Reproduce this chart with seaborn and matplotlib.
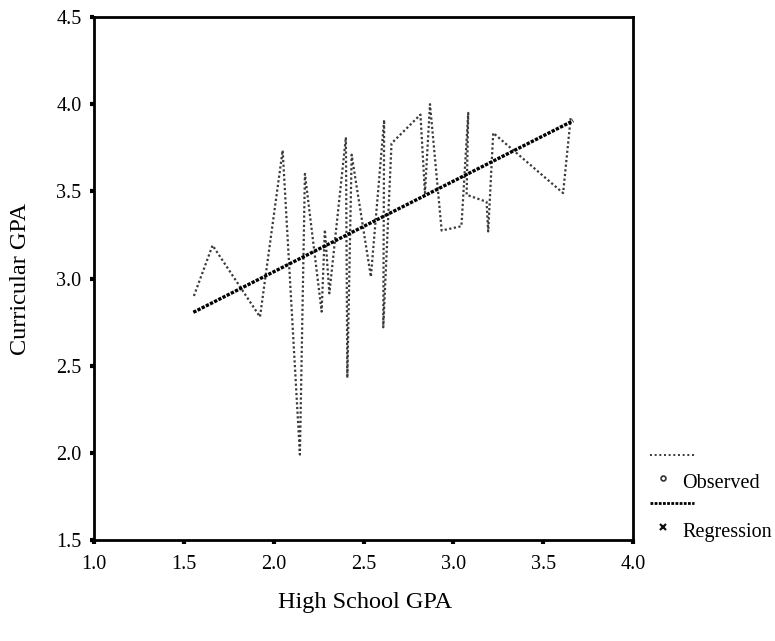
import matplotlib
matplotlib.use("Agg")
import matplotlib.pyplot as plt
from matplotlib.lines import Line2D
import seaborn as sns
import pandas as pd

# Observed series (connected in order)
obs_x = [1.556, 1.660, 1.924, 2.050, 2.146, 2.174, 2.267, 2.285, 2.310, 2.402,
         2.410, 2.434, 2.541, 2.615, 2.610, 2.656, 2.817, 2.842, 2.870, 2.935,
         3.045, 3.083, 3.074, 3.185, 3.194, 3.222, 3.611, 3.653]
obs_y = [2.90, 3.19, 2.78, 3.735, 1.99, 3.60, 2.81, 3.28, 2.915, 3.81,
         2.43, 3.71, 3.01, 3.91, 2.72, 3.775, 3.94, 3.49, 4.00, 3.275,
         3.30, 3.95, 3.48, 3.44, 3.27, 3.835, 3.49, 3.92]
# Regression line
reg_x = [1.553, 3.667]
reg_y = [2.806, 3.905]

x_ticks = [1.0, 1.5, 2.0, 2.5, 3.0, 3.5, 4.0]
y_ticks = [1.5, 2.0, 2.5, 3.0, 3.5, 4.0, 4.5]
x_label = "High School GPA"
y_label = "Curricular GPA"
legend_labels = ["Observed", "Regression"]

sns.set_theme(style="white")
plt.rcParams["font.family"] = ["Liberation Serif", "DejaVu Serif"]

fig = plt.figure(figsize=(7.75, 6.41), dpi=100)
ax = fig.add_axes([94 / 775, 1 - 540 / 641, (633 - 94) / 775, (540 - 17) / 641])

obs_df = pd.DataFrame({"x": obs_x, "y": obs_y})
reg_df = pd.DataFrame({"x": reg_x, "y": reg_y})

sns.lineplot(data=obs_df, x="x", y="y", sort=False, estimator=None, ax=ax,
             color="#3a3a3a", linewidth=1.6, linestyle=(0, (1, 1.1)))
sns.lineplot(data=reg_df, x="x", y="y", sort=False, estimator=None, ax=ax,
             color="#000000", linewidth=2.4, linestyle=(0, (1, 0.4)))

ax.set_xlim(1.0, 4.0)
ax.set_ylim(1.5, 4.5)
ax.set_xticks(x_ticks)
ax.set_yticks(y_ticks)
ax.set_xticklabels([f"{t:.1f}" for t in x_ticks])
ax.set_yticklabels([f"{t:.1f}" for t in y_ticks])
ax.tick_params(axis="both", direction="out", length=3, width=3, color="black",
               labelsize=14.5, labelcolor="black", pad=6, bottom=True, left=True)
ax.tick_params(axis="x", pad=8)
for s in ax.spines.values():
    s.set_visible(True)
    s.set_color("black")
    s.set_linewidth(2)

ax.set_xlabel(x_label, fontsize=17.5, color="black")
ax.set_ylabel(y_label, fontsize=17.5, color="black")
ax.xaxis.set_label_coords(0.503, -0.1)
ax.yaxis.set_label_coords(-0.116, 0.5)

# Legend (outside right, custom layout)
def fx(px):
    return px / 775
def fy(py):
    return 1 - py / 641

fig.add_artist(Line2D([fx(650), fx(694)], [fy(455), fy(455)], color="#3a3a3a",
                      linewidth=1.4, linestyle=(0, (1, 1.4))))
fig.add_artist(Line2D([fx(663)], [fy(478)], marker="o", markersize=3.5,
                      markerfacecolor="white", markeredgecolor="#333333",
                      markeredgewidth=1.2, linestyle="none"))
fig.text(fx(682), fy(484), legend_labels[0], fontsize=14.5, va="center", ha="left", color="black")
fig.add_artist(Line2D([fx(650), fx(694)], [fy(503), fy(503)], color="#000000",
                      linewidth=2.0, linestyle=(0, (1, 0.5))))
fig.add_artist(Line2D([fx(663)], [fy(527)], marker="x", markersize=4,
                      markeredgecolor="#111111", markeredgewidth=1.6, linestyle="none"))
fig.text(fx(682), fy(533), legend_labels[1], fontsize=14.5, va="center", ha="left", color="black")

fig.savefig("out.png", dpi=100, facecolor="white")
